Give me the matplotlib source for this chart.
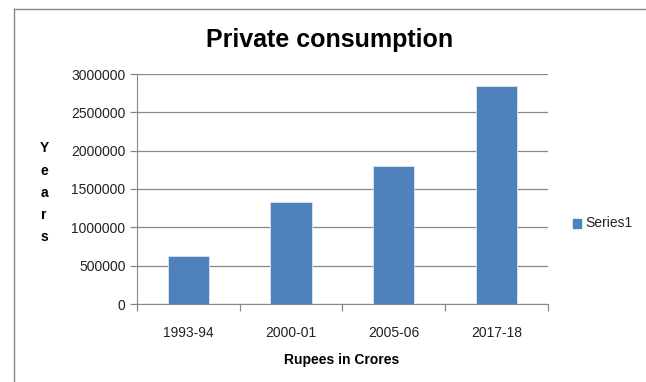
import matplotlib.pyplot as plt
from matplotlib.lines import Line2D
from matplotlib.patches import Rectangle

years = ["1993-94", "2000-01", "2005-06", "2017-18"]
consumption = [630000, 1334000, 1796000, 2847000]
yticks = [0, 500000, 1000000, 1500000, 2000000, 2500000, 3000000]

plt.rcParams['font.family'] = ['Liberation Sans', 'DejaVu Sans']

W, H = 646, 382
fig = plt.figure(figsize=(W / 100, H / 100), dpi=100)
ax = fig.add_axes([136.7 / W, 1 - 304 / H, (548 - 136.7) / W, (304 - 74) / H])

x = range(len(years))
ax.bar(x, consumption, width=0.4, color="#4F81BD", edgecolor="#DCE6F2",
       linewidth=0.6, zorder=3, label="Series1")

ax.set_xlim(-0.5, len(years) - 0.5)
ax.set_ylim(0, 3000000)
ax.set_yticks(yticks)
ax.set_yticklabels([str(v) for v in yticks], fontsize=10, color="#222222")
ax.yaxis.grid(True, color="#888888", linewidth=0.9, zorder=0)

ax.set_xticks(list(x))
ax.set_xticklabels(years, fontsize=10, color="#222222")
ax.tick_params(axis="x", length=0, pad=16)
ax.set_xticks([i - 0.5 for i in range(len(years) + 1)], minor=True)
ax.tick_params(axis="x", which="minor", length=5, color="#888888", width=0.9)
ax.tick_params(axis="y", length=5, color="#888888", width=0.9, pad=3)

for s in ["top", "right"]:
    ax.spines[s].set_visible(False)
ax.spines["left"].set_color("#888888")
ax.spines["bottom"].set_color("#888888")

fig.text(330 / W, 1 - 40 / H, "Private consumption", fontsize=18,
         fontweight="bold", ha="center", va="center")
fig.text(342 / W, 1 - 360 / H, "Rupees in Crores", fontsize=10,
         fontweight="bold", ha="center", va="center")
fig.text(44 / W, 1 - 193 / H, "Y\ne\na\nr\ns", fontsize=10, fontweight="bold",
         ha="center", va="center", linespacing=1.75)

# legend entry on the right
fig.add_artist(Rectangle((573 / W, 1 - 228 / H), 8 / W, 9 / H,
                         transform=fig.transFigure, color="#4F81BD"))
fig.text(585 / W, 1 - 223 / H, "Series1", fontsize=10, va="center", color="#222222")

# chart frame
fig.add_artist(Line2D([14 / W, 14 / W], [0, 1 - 9 / H], transform=fig.transFigure,
                      color="#888888", linewidth=1))
fig.add_artist(Line2D([14 / W, 1], [1 - 9 / H, 1 - 9 / H], transform=fig.transFigure,
                      color="#888888", linewidth=1))

fig.savefig("out.png", dpi=100)
